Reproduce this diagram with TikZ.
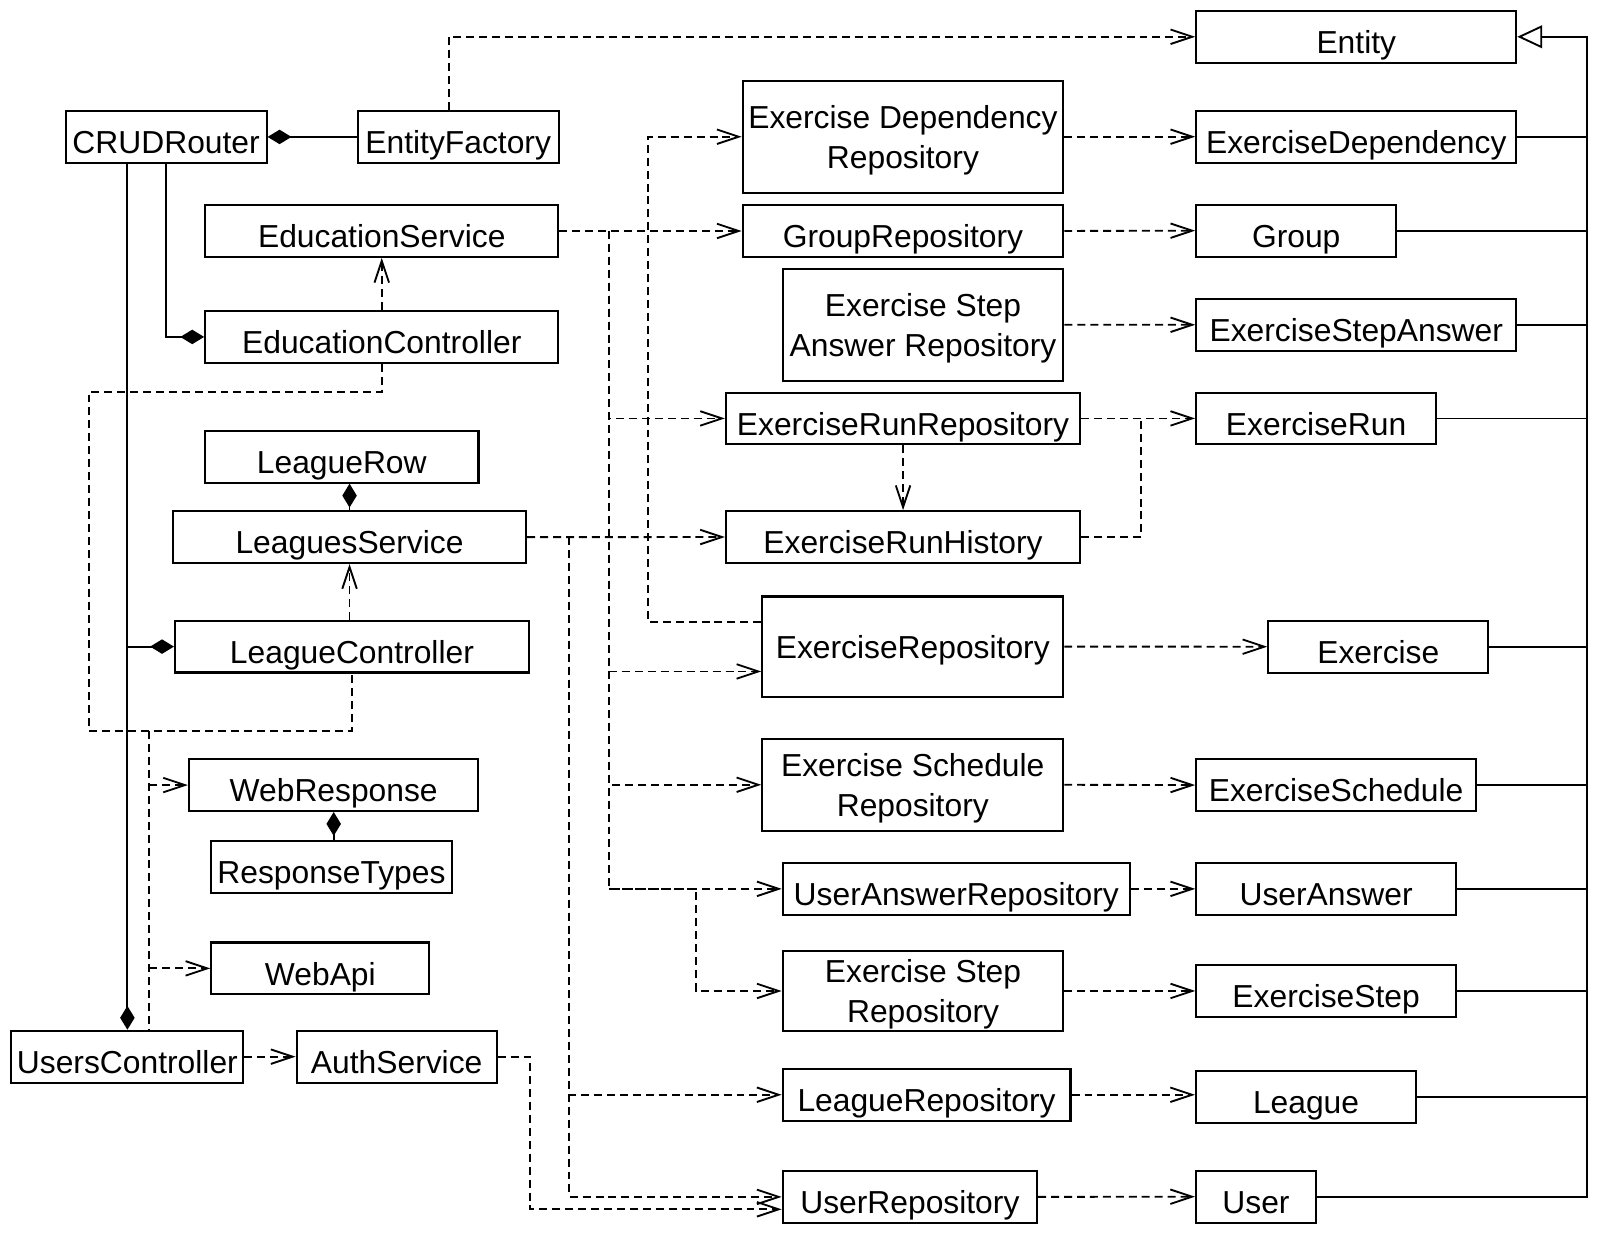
\documentclass[tikz,border=0pt]{standalone}
\usepackage{fontspec}
\setmainfont{Liberation Sans}
\usetikzlibrary{arrows.meta}
\begin{document}
\begin{tikzpicture}[x=1pt,y=-1pt,
  every node/.style={font=\fontsize{30.7pt}{38.6pt}\selectfont},
  box/.style={draw, line width=2pt, inner sep=0pt, minimum height=50pt, text height=32.5pt, text depth=0pt},
  mbox/.style={draw, line width=2pt, inner sep=0pt, align=center, text depth=0pt},
  conn/.style={line width=1.8pt},
  dashline/.style={conn, dash pattern=on 7.7pt off 4.8pt},
  dep/.style={dashline, -{Straight Barb[length=21pt,width=14pt,line width=1.8pt]}},
  comp/.style={conn, {Diamond[length=23pt,width=14pt]}-},
  gen/.style={conn, -{Triangle[open,length=24pt,width=22pt,fill=white,line width=1.8pt]}},
]
\useasboundingbox (0,0) rectangle (1568,1203);

% left column
\node[box, minimum width=194pt] (crud) at (160.4,132.2) {CRUDRouter};
\node[box, minimum width=194pt] (ef) at (442.4,132.2) {EntityFactory};
\node[box, minimum width=341pt] (es) at (368.6,223) {EducationService};
\node[box, minimum width=341pt] (ec) at (368.6,325.3) {EducationController};
\node[box, minimum width=264pt] (lr) at (330,441) {LeagueRow};
\node[box, minimum width=341pt] (ls) at (337.5,518.6) {LeaguesService};
\node[box, minimum width=341.7pt] (lc) at (339.8,624.3) {LeagueController};
\node[box, minimum width=279.5pt] (wr) at (322.2,758) {WebResponse};
\node[box, minimum width=232pt] (rt) at (320,836.8) {ResponseTypes};
\node[box, minimum width=210.6pt] (wa) at (309.3,935) {WebApi};
\node[box, minimum width=224pt] (uc) at (123,1020.2) {UsersController};
\node[box, minimum width=193.3pt] (as) at (383,1020.2) {AuthService};

% middle column
\node[mbox, minimum width=309.5pt, minimum height=108pt] (edr) at (871.8,132) {Exercise Dependency\\Repository};
\node[box, minimum width=309.5pt] (gr) at (871.8,223) {GroupRepository};
\node[mbox, minimum width=271pt, minimum height=108pt] (esar) at (891.2,313.5) {Exercise Step\\Answer Repository};
\node[box, minimum width=342pt] (err) at (871.9,404) {ExerciseRunRepository};
\node[box, minimum width=342pt] (erh) at (871.9,518.5) {ExerciseRunHistory};
\node[mbox, minimum width=290.5pt, minimum height=96.7pt] (exr) at (881.3,624.3) {ExerciseRepository};
\node[mbox, minimum width=290.5pt, minimum height=88.5pt] (esr) at (881.3,757.7) {Exercise Schedule\\Repository};
\node[box, minimum width=335.2pt] (uar) at (923.3,858.2) {UserAnswerRepository};
\node[mbox, minimum width=271pt, minimum height=77.3pt] (estr) at (891.2,956.8) {Exercise Step\\Repository};
\node[box, minimum width=278pt] (lgr) at (894.6,1057) {LeagueRepository};
\node[box, minimum width=245.7pt] (ur) at (878.5,1155.6) {UserRepository};

% right column
\node[box, minimum width=309pt] (ent) at (1309.5,35.5) {Entity};
\node[box, minimum width=309pt] (exdep) at (1309.5,132) {ExerciseDependency};
\node[box, minimum width=193pt] (grp) at (1251.5,222.7) {Group};
\node[box, minimum width=309pt] (esa) at (1309.5,313.6) {ExerciseStepAnswer};
\node[box, minimum width=231.5pt] (er) at (1270.7,404) {ExerciseRun};
\node[box, minimum width=212.4pt] (ex) at (1330.8,624.4) {Exercise};
\node[box, minimum width=270pt] (esch) at (1290,758) {ExerciseSchedule};
\node[box, minimum width=250.8pt] (ua) at (1280.4,858.2) {UserAnswer};
\node[box, minimum width=250.8pt] (est) at (1280.4,956.8) {ExerciseStep};
\node[box, minimum width=212.4pt] (lg) at (1261,1058.9) {League};
\node[box, minimum width=115.8pt] (us) at (1212.7,1155.4) {User};

% junction points
\coordinate (b1) at (85.7,705.8);
\coordinate (b2) at (144,705.8);
\coordinate (v1) at (588.3,223);
\coordinate (v3) at (549.5,518.6);
\coordinate (gx) at (1532.6,35.5);

% left side connectors
\draw[dep] ([xshift=-9pt]ef.north) |- (ent.west);
\draw[comp] (crud.east) -- (ef.west);
\draw[comp] (uc.north) -- (uc.north |- crud.south);
\draw[comp] (ec.west) -| (crud.south);
\draw[comp] (lc.west) -- (lc.west -| uc.north);
\draw[dep] (ec.north) -- (es.south);
\draw[dep] (ls.south |- lc.north) -- (ls.south);
\draw[comp] (lr.south -| ls.north) -- (ls.north);
\draw[comp] (wr.south) -- (wr.south |- rt.north);
\draw[dashline] (ec.south) -- ++(0,27) -| (b1) -| (lc.south);
\draw[dashline] (b2) -- (b2 |- uc.north);
\draw[dep] (b2 |- wr.west) -- (wr.west);
\draw[dep] (b2 |- wa.west) -- (wa.west);
\draw[dep] (uc.east) -- (as.west);
\draw[dep] (as.east) -- ++(31.3,0) |- ([yshift=-12pt]ur.west);

% services to repositories
\draw[dep] (ls.east) -- (erh.west);
\draw[dep] (v3) |- (lgr.west);
\draw[dep] (v3) |- (ur.west);
\draw[dep] (es.east) -- (gr.west);
\draw[dep] (v1) |- (err.west);
\draw[dep] (v1) |- ([yshift=-24pt]exr.west);
\draw[dep] (v1) |- (esr.west);
\draw[dep] (v1) |- (uar.west);
\draw[dep] (v1 |- uar.west) -- ++(84,0) |- (estr.west);
\draw[dep] ([yshift=24pt]exr.west) -| ([xshift=-90.6pt]edr.west) -- (edr.west);

% repositories to entities
\draw[dep] (edr.east) -- (exdep.west);
\draw[dep] (gr.east) -- (grp.west);
\draw[dep] (esar.east) -- (esa.west);
\draw[dep] (err.east) -- (er.west);
\draw[dep] (exr.east) -- (ex.west);
\draw[dep] (esr.east) -- (esch.west);
\draw[dep] (uar.east) -- (ua.west);
\draw[dep] (estr.east) -- (est.west);
\draw[dep] (lgr.east) -- (lgr.east -| lg.west);
\draw[dep] (ur.east) -- (us.west);
\draw[dep] (err.south) -- (erh.north);
\draw[dashline] (erh.east) -| ([xshift=-52pt]er.west);

% generalization
\draw[gen] (us.east) -| (gx) -- (ent.east);
\foreach \n in {exdep,grp,esa,er,ex,esch,ua,est,lg}
  \draw[conn] (\n.east) -- (\n.east -| gx);
\end{tikzpicture}
\end{document}
